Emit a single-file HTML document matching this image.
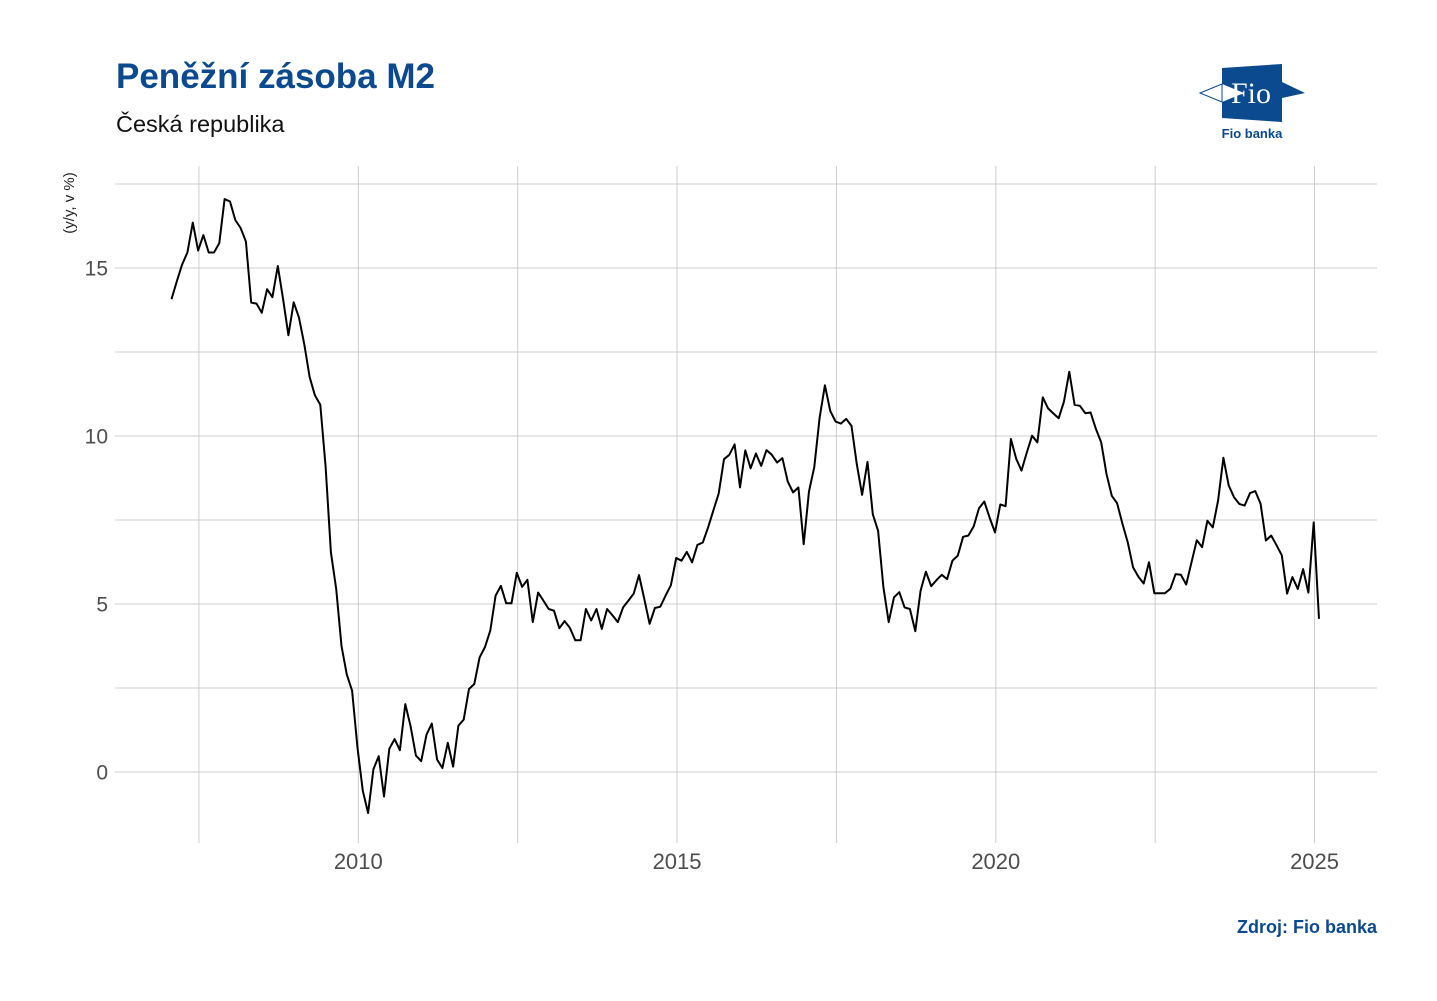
<!DOCTYPE html>
<html><head><meta charset="utf-8">
<style>
body{margin:0;background:#fff;font-family:"Liberation Sans",Arial,sans-serif;}
svg text{font-family:"Liberation Sans",Arial,sans-serif;}
</style></head>
<body>
<svg width="1437" height="996" viewBox="0 0 1437 996" xmlns="http://www.w3.org/2000/svg">
<rect width="1437" height="996" fill="#fff"/>
<text x="116" y="88" font-size="35" font-weight="bold" fill="#0b4a8f">Peněžní zásoba M2</text>
<text x="116" y="132" font-size="23.5" fill="#111">Česká republika</text>
<g>
<polygon points="1200,93 1222,84 1222,102" fill="#fff" stroke="#0b4a8f" stroke-width="1"/>
<polygon points="1222,68 1282,64 1282,82 1305,93 1282,98 1282,122 1222,118 1222,102 1244,93 1222,84" fill="#0b4a8f"/>
<text x="1251" y="103" font-size="30" fill="#fff" text-anchor="middle" style="font-family:'Liberation Serif',serif">Fio</text>
<text x="1252" y="138" font-size="13" font-weight="bold" fill="#0b4a8f" text-anchor="middle">Fio banka</text>
</g>
<text transform="translate(74,203) rotate(-90)" font-size="15" fill="#222" text-anchor="middle">(y/y, v %)</text>
<g id="grid"></g>
<g id="yt"></g>
<g id="xt"></g>
<path id="line" fill="none" stroke="#000" stroke-width="2" stroke-linejoin="round"/>
<text x="1377" y="933" font-size="18" font-weight="bold" fill="#0b4a8f" text-anchor="end">Zdroj: Fio banka</text>
</svg>
<script>
const startYear = 2007.07;
const values = [14.07,14.6,15.1,15.46,16.35,15.52,15.98,15.46,15.46,15.74,17.05,16.98,16.43,16.19,15.79,13.97,13.94,13.67,14.37,14.13,15.06,14.07,13.0,13.98,13.52,12.73,11.76,11.21,10.93,9.09,6.54,5.45,3.75,2.9,2.42,0.72,-0.56,-1.22,0.08,0.47,-0.73,0.69,0.98,0.65,2.02,1.36,0.49,0.32,1.11,1.44,0.37,0.12,0.87,0.16,1.38,1.56,2.47,2.62,3.41,3.72,4.21,5.25,5.54,5.02,5.02,5.93,5.51,5.72,4.46,5.34,5.1,4.85,4.8,4.28,4.49,4.29,3.92,3.92,4.85,4.51,4.85,4.26,4.85,4.66,4.46,4.9,5.1,5.31,5.86,5.15,4.41,4.88,4.92,5.25,5.56,6.37,6.29,6.55,6.24,6.76,6.83,7.28,7.79,8.29,9.31,9.44,9.75,8.47,9.57,9.04,9.48,9.11,9.58,9.44,9.21,9.34,8.64,8.32,8.47,6.78,8.35,9.08,10.54,11.51,10.74,10.43,10.37,10.51,10.3,9.16,8.25,9.23,7.67,7.18,5.5,4.46,5.2,5.35,4.9,4.85,4.19,5.4,5.96,5.53,5.71,5.87,5.74,6.29,6.44,7.0,7.04,7.31,7.85,8.05,7.57,7.13,7.96,7.91,9.91,9.32,8.97,9.51,10.01,9.81,11.15,10.82,10.67,10.53,11.03,11.91,10.93,10.9,10.68,10.7,10.21,9.81,8.87,8.22,8.0,7.38,6.83,6.09,5.81,5.61,6.24,5.32,5.32,5.32,5.45,5.89,5.87,5.58,6.24,6.9,6.69,7.48,7.28,8.08,9.35,8.53,8.18,7.98,7.93,8.3,8.36,7.98,6.89,7.04,6.75,6.45,5.31,5.8,5.45,6.04,5.34,7.43,4.56];
const yTicks = [0,5,10,15];
const yMinor = [2.5,7.5,12.5,17.5];
const xTicks = [2010,2015,2020,2025];
const xMinor = [2007.5,2012.5,2017.5,2022.5];
const X = t => 358.3 + (t-2010)*63.75;
const Y = v => 772 - v*33.6;
const NS="http://www.w3.org/2000/svg";
const grid=document.getElementById('grid');
function ln(x1,y1,x2,y2,name){const l=document.createElementNS(NS,'line');
l.setAttribute('x1',x1);l.setAttribute('y1',y1);l.setAttribute('x2',x2);l.setAttribute('y2',y2);
l.setAttribute('stroke','#cccccc');l.setAttribute('stroke-width','1');


grid.appendChild(l);}
yMinor.concat(yTicks).forEach(v=>ln(115,Y(v),1377,Y(v),'y-gridline'));
xMinor.concat(xTicks).forEach(t=>ln(X(t),166,X(t),843,'x-gridline'));
const yt=document.getElementById('yt');
yTicks.forEach(v=>{const e=document.createElementNS(NS,'text');
e.setAttribute('x',108);e.setAttribute('y',Y(v)+7.5);e.setAttribute('text-anchor','end');
e.setAttribute('font-size','21');e.setAttribute('fill','#4d4d4d');e.textContent=v;


yt.appendChild(e);});
const xt=document.getElementById('xt');
xTicks.forEach(t=>{const e=document.createElementNS(NS,'text');
e.setAttribute('x',X(t));e.setAttribute('y',869);e.setAttribute('text-anchor','middle');
e.setAttribute('font-size','22');e.setAttribute('fill','#4d4d4d');e.textContent=t;


xt.appendChild(e);});
document.getElementById('line').setAttribute('d',values.map((v,i)=>(i?'L':'M')+X(startYear+i/12).toFixed(1)+','+Y(v).toFixed(1)).join(''));
</script>
</body></html>
